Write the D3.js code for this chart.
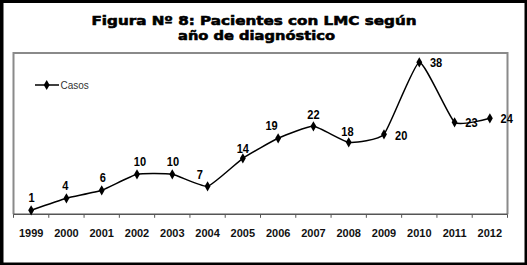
<!DOCTYPE html>
<html>
<head>
<meta charset="utf-8">
<script src="https://cdn.jsdelivr.net/npm/d3@7"></script>
<style>
  html, body { margin: 0; padding: 0; background: #fff; }
  svg { display: block; }
</style>
</head>
<body>
<svg id="chart" width="527" height="265"></svg>
<script>
// ---- data ----
const years = ["1999","2000","2001","2002","2003","2004","2005","2006","2007","2008","2009","2010","2011","2012"];
const casos = [1, 4, 6, 10, 10, 7, 14, 19, 22, 18, 20, 38, 23, 24];
const seriesName = "Casos";
const titleLines = ["Figura Nº 8: Pacientes con LMC según", "año de diagnóstico"];

// label placement (presentation only)
const labelPlacement = {
  "1999": {dx: 0.5, dy: -8.5, anchor: "middle"},
  "2000": {dx: -1, dy: -8, anchor: "middle"},
  "2001": {dx: 1, dy: -8.3, anchor: "middle"},
  "2002": {dx: 3, dy: -8.6, anchor: "middle"},
  "2003": {dx: 0.6, dy: -8.6, anchor: "middle"},
  "2004": {dx: -7.7, dy: -7.7, anchor: "middle"},
  "2005": {dx: 0, dy: -5.6, anchor: "middle"},
  "2006": {dx: -6.6, dy: -8.3, anchor: "middle"},
  "2007": {dx: 0, dy: -7.3, anchor: "middle"},
  "2008": {dx: -1.3, dy: -6, anchor: "middle"},
  "2009": {dx: 11, dy: 5.7, anchor: "start"},
  "2010": {dx: 10.7, dy: 4.4, anchor: "start"},
  "2011": {dx: 10.7, dy: 5, anchor: "start"},
  "2012": {dx: 10.7, dy: 5, anchor: "start"}
};

const svg = d3.select("#chart");
const W = 527, H = 265;

// outer black frame
svg.append("rect").attr("x", 0).attr("y", 0).attr("width", W).attr("height", H).attr("fill", "#000");
svg.append("rect").attr("x", 3.5).attr("y", 3).attr("width", W - 3.5 - 2.5).attr("height", H - 3 - 2.5).attr("fill", "#fff");

// title
const title = svg.append("g")
  .attr("font-family", "'DejaVu Sans', 'Liberation Sans', sans-serif")
  .attr("font-weight", "bold")
  .attr("font-size", 13)
  .attr("fill", "#000")
  .attr("stroke", "#000").attr("stroke-width", 0.6)
  .attr("text-anchor", "middle");
title.append("text").attr("x", 254).attr("y", 24.5).attr("textLength", 325).attr("lengthAdjust", "spacingAndGlyphs").text(titleLines[0]);
title.append("text").attr("x", 256.5).attr("y", 40).attr("textLength", 157).attr("lengthAdjust", "spacingAndGlyphs").text(titleLines[1]);

// plot area
const box = {left: 13.5, top: 53, right: 507.5, bottom: 214.3};

const x = d3.scaleBand().domain(years).range([box.left, box.right]).paddingInner(0).paddingOuter(0);
const y = d3.scaleLinear().domain([0, 40]).range([box.bottom, box.bottom - 160]);

// plot border (gray) on left, top, right
svg.append("path")
  .attr("d", `M${box.left},${box.bottom} V${box.top} H${box.right} V${box.bottom}`)
  .attr("fill", "none").attr("stroke", "#8a8a8a").attr("stroke-width", 2);

// x axis
const xAxis = d3.axisBottom(x).tickSize(0).tickFormat(d => d);
const gx = svg.append("g").attr("transform", `translate(0,${box.bottom})`).call(xAxis);
gx.select(".domain").remove();
gx.selectAll("text")
  .attr("dy", 0).attr("y", 23)
  .attr("font-family", "'Liberation Sans', Arial, sans-serif")
  .attr("font-weight", "bold").attr("font-size", 11).attr("fill", "#111");
svg.append("line").attr("x1", box.left).attr("x2", box.right).attr("y1", box.bottom).attr("y2", box.bottom)
  .attr("stroke", "#555").attr("stroke-width", 1.6);
// tick marks at category boundaries
const boundaries = years.map(d => x(d)).concat([x(years[years.length - 1]) + x.bandwidth()]);
svg.append("g").selectAll("line").data(boundaries).join("line")
  .attr("x1", d => d).attr("x2", d => d)
  .attr("y1", box.bottom).attr("y2", box.bottom + 3.5)
  .attr("stroke", "#555").attr("stroke-width", 1);

// series
const pts = years.map((yr, i) => ({yr, v: casos[i], px: x(yr) + x.bandwidth() / 2, py: y(casos[i])}));
const line = d3.line().x(d => d.px).y(d => d.py).curve(d3.curveCardinal.tension(0.55));
svg.append("path").datum(pts).attr("d", line)
  .attr("fill", "none").attr("stroke", "#000").attr("stroke-width", 1.5);

const diamond = d3.symbol().type(d3.symbolDiamond).size(30);
svg.append("g").selectAll("path").data(pts).join("path")
  .attr("transform", d => `translate(${d.px},${d.py})`)
  .attr("d", diamond).attr("fill", "#000");

// data labels (horizontally condensed)
svg.append("g").selectAll("text").data(pts).join("text")
  .attr("transform", d => `translate(${d.px + labelPlacement[d.yr].dx},${d.py + labelPlacement[d.yr].dy}) scale(0.85,1)`)
  .attr("text-anchor", d => labelPlacement[d.yr].anchor)
  .attr("font-family", "'Liberation Sans Narrow', 'Arial Narrow', 'Liberation Sans', sans-serif")
  .attr("font-weight", "bold").attr("font-size", 13).attr("fill", "#000")
  .text(d => d.v);

// legend
const lg = svg.append("g");
lg.append("line").attr("x1", 35).attr("x2", 59).attr("y1", 85).attr("y2", 85).attr("stroke", "#000").attr("stroke-width", 1.5);
lg.append("path").attr("transform", "translate(46.7,85)").attr("d", diamond).attr("fill", "#000");
lg.append("text").attr("x", 60.5).attr("y", 88.8)
  .attr("font-family", "'Liberation Sans', Arial, sans-serif").attr("font-size", 10).attr("fill", "#333")
  .text(seriesName);
</script>
</body>
</html>
